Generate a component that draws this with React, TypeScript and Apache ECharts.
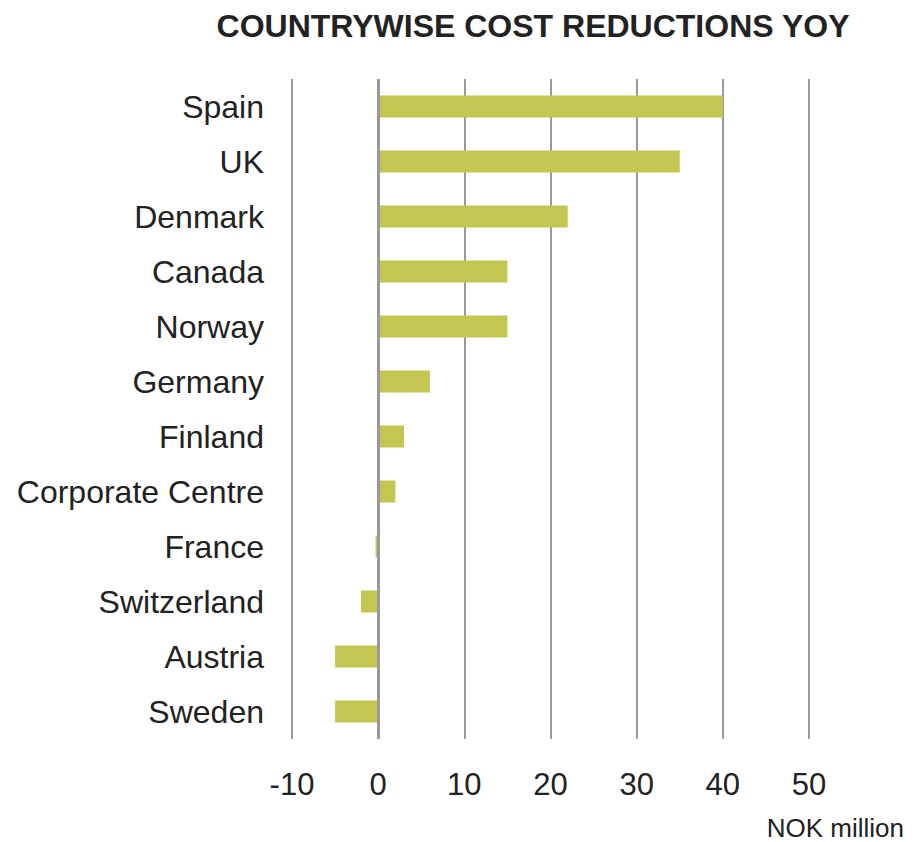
import React, { useEffect, useRef } from "react";
import * as echarts from "echarts";

const categories = [
  "Spain",
  "UK",
  "Denmark",
  "Canada",
  "Norway",
  "Germany",
  "Finland",
  "Corporate Centre",
  "France",
  "Switzerland",
  "Austria",
  "Sweden",
];
const values = [40, 35, 22, 15, 15, 6, 3, 2, -0.3, -2, -5, -5];
const titleText = "COUNTRYWISE COST REDUCTIONS YOY";
const unitText = "NOK million";

export default function App() {
  const ref = useRef<HTMLDivElement>(null);
  useEffect(() => {
    if (!ref.current) return;
    const chart = echarts.init(ref.current, undefined, { renderer: "svg" });
    const font = "'Liberation Sans', Arial, sans-serif";
    chart.setOption({
      animation: false,
      backgroundColor: "#ffffff",
      title: {
        text: titleText,
        left: 528,
        textAlign: "center",
        top: 5,
        textStyle: {
          fontSize: 32,
          fontWeight: "bold",
          fontFamily: font,
          color: "#222222",
        },
      },
      grid: { left: 292, right: 109, top: 79, bottom: 103, containLabel: false },
      xAxis: {
        type: "value",
        min: -10,
        max: 50,
        interval: 10,
        axisLine: { show: false },
        axisTick: { show: false },
        splitLine: { show: true, lineStyle: { color: "#9a9a9a", width: 2 } },
        axisLabel: {
          fontSize: 31,
          fontFamily: font,
          color: "#222222",
          margin: 30,
        },
      },
      yAxis: {
        type: "category",
        data: categories,
        inverse: true,
        axisLine: { show: false },
        axisTick: { show: false },
        splitLine: { show: false },
        axisLabel: {
          fontSize: 32,
          fontFamily: font,
          color: "#222222",
          margin: 28,
        },
      },
      series: [
        {
          type: "bar",
          data: values,
          barWidth: 22,
          itemStyle: { color: "#c3c650" },
          markLine: {
            silent: true,
            symbol: "none",
            label: { show: false },
            lineStyle: { color: "#999999", width: 3, type: "solid" },
            data: [{ xAxis: 0 }],
          },
          z: 3,
        },
      ],
      graphic: [
        {
          type: "text",
          right: 14,
          top: 815,
          style: {
            text: unitText,
            fontSize: 26,
            fontFamily: font,
            fill: "#222222",
          },
        },
      ],
    });
    return () => chart.dispose();
  }, []);
  return (
    <div
      ref={ref}
      style={{ position: "fixed", left: 0, top: 0, width: 918, height: 842 }}
    />
  );
}
